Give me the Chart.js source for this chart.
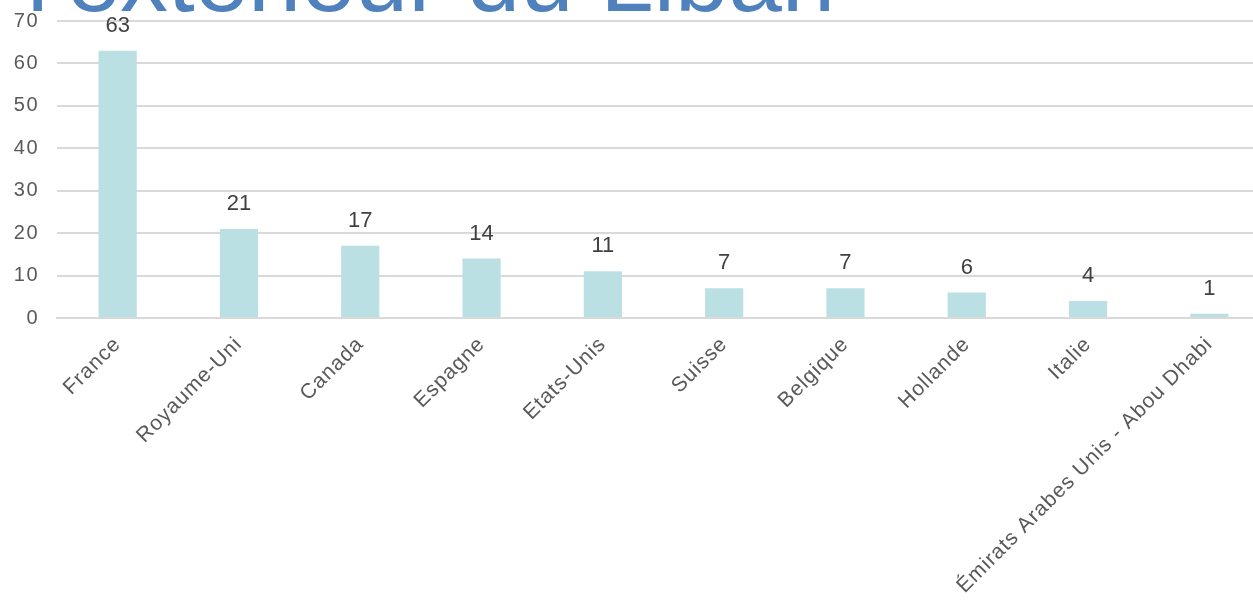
<!DOCTYPE html>
<html>
<head>
<meta charset="utf-8">
<script src="https://cdn.jsdelivr.net/npm/chart.js@4"></script>
<style>
  html, body { margin: 0; padding: 0; background: #fff; overflow: hidden; width: 1253px; height: 602px; }
  #wrap { position: absolute; left: 0; top: 0; width: 1270px; height: 602px; }
  #title { position: absolute; left: 27px; top: -70px; font-family: "Liberation Sans", Arial, sans-serif; font-size: 96px; line-height: 96px; color: #4F81BD; white-space: nowrap; z-index: 2; }
</style>
</head>
<body>
<div id="title">l'extérieur du Liban</div>
<div id="wrap"><canvas id="c"></canvas></div>
<script>
const categories = ["France", "Royaume-Uni", "Canada", "Espagne", "Etats-Unis", "Suisse", "Belgique", "Hollande", "Italie", "Émirats Arabes Unis - Abou Dhabi"];
const values = [63, 21, 17, 14, 11, 7, 7, 6, 4, 1];
const yMin = 0, yMax = 70, yStep = 10;

const FONT = '"Liberation Sans", Arial, sans-serif';

const valueLabels = {
  id: 'valueLabels',
  afterDatasetsDraw(chart) {
    const ctx = chart.ctx;
    const meta = chart.getDatasetMeta(0);
    ctx.save();
    ctx.letterSpacing = '0px';
    ctx.font = '22px ' + FONT;
    ctx.fillStyle = '#404040';
    ctx.textAlign = 'center';
    ctx.textBaseline = 'middle';
    meta.data.forEach((bar, i) => {
      ctx.fillText(String(values[i]), bar.x, bar.y - 25);
    });
    ctx.restore();
  }
};

// slightly widen tick text (reference typography is wider than Arial)
const tickSpacing = {
  id: 'tickSpacing',
  beforeDraw(chart) {
    const spacing = { x: '1px', y: '1.5px' };
    Object.keys(spacing).forEach(id => {
      const s = chart.scales[id];
      if (s && !s.__spaced) {
        const orig = s.drawLabels.bind(s);
        s.drawLabels = function (area) {
          const ctx = this.ctx;
          ctx.save();
          ctx.letterSpacing = spacing[id];
          orig(area);
          ctx.restore();
        };
        s.__spaced = true;
      }
    });
  }
};

new Chart(document.getElementById('c'), {
  type: 'bar',
  data: {
    labels: categories,
    datasets: [{
      data: values,
      backgroundColor: '#BBE0E3',
      borderWidth: 0,
      categoryPercentage: 1,
      barPercentage: 0.315
    }]
  },
  options: {
    responsive: true,
    maintainAspectRatio: false,
    animation: false,
    layout: { padding: { top: 21, right: 0, left: 0, bottom: 0 } },
    plugins: { legend: { display: false }, tooltip: { enabled: false }, title: { display: false } },
    scales: {
      x: {
        grid: { display: false, drawTicks: false },
        border: { display: true, color: '#D9D9D9', width: 2 },
        ticks: {
          color: '#595959',
          font: { family: FONT, size: 21 },
          minRotation: 45, maxRotation: 45,
          autoSkip: false,
          padding: 14
        },
        afterFit(s) { s.height = 284; s.paddingLeft = 0; s.paddingRight = 0; }
      },
      y: {
        min: yMin, max: yMax,
        grid: { color: '#D9D9D9', lineWidth: 2, drawTicks: false },
        border: { display: false },
        ticks: {
          stepSize: yStep,
          color: '#595959',
          font: { family: FONT, size: 20 },
          padding: 18
        },
        afterFit(s) { s.width = 57; s.paddingTop = 0; s.paddingBottom = 0; }
      }
    }
  },
  plugins: [valueLabels, tickSpacing]
});
</script>
</body>
</html>
